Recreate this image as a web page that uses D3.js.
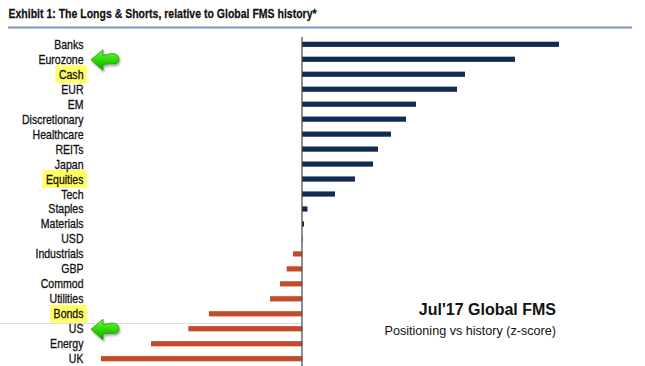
<!DOCTYPE html>
<html><head><meta charset="utf-8">
<script src="https://cdn.jsdelivr.net/npm/d3@7"></script>
<style>
html,body{margin:0;padding:0;background:#fff;}
svg{display:block;}
</style></head>
<body>
<svg id="c" width="645" height="366"></svg>
<script>
const categories = ["Banks","Eurozone","Cash","EUR","EM","Discretionary","Healthcare","REITs","Japan","Equities","Tech","Staples","Materials","USD","Industrials","GBP","Commod","Utilities","Bonds","US","Energy","UK"];
const zscores = [2.57,2.13,1.63,1.55,1.14,1.04,0.89,0.76,0.71,0.53,0.33,0.055,0.02,0.005,-0.09,-0.153,-0.22,-0.32,-0.93,-1.137,-1.51,-2.01];
const highlighted = ["Cash","Equities","Bonds"];
const arrowed = ["Eurozone","US"];
const titleText = "Exhibit 1: The Longs & Shorts, relative to Global FMS history*";
const noteTitle = "Jul'17 Global FMS";
const noteSub = "Positioning vs history (z-score)";

const svg = d3.select("#c");
const SANS = "'Liberation Sans',Arial,Helvetica,sans-serif";

const x = d3.scaleLinear().domain([-2.01, 2.57]).range([101, 559]);
const y = d3.scalePoint().domain(categories).range([44.3, 358.7]);

// defs
const defs = svg.append("defs");
const grad = defs.append("linearGradient").attr("id","ag").attr("x1",0).attr("y1",0).attr("x2",0).attr("y2",1);
grad.append("stop").attr("offset","0%").attr("stop-color","#77f544");
grad.append("stop").attr("offset","55%").attr("stop-color","#2bd400");
grad.append("stop").attr("offset","100%").attr("stop-color","#15a000");
const f = defs.append("filter").attr("id","sh").attr("x","-30%").attr("y","-30%").attr("width","160%").attr("height","170%");
f.append("feDropShadow").attr("dx",1).attr("dy",2).attr("stdDeviation",1.2).attr("flood-color","#000").attr("flood-opacity",0.35);

// narrow text helper: horizontal compression
function narrowText(sel, px, py, anchor, s){
  sel.attr("x",0).attr("y",0).attr("text-anchor",anchor)
     .attr("transform",`translate(${px},${py}) scale(${s},1)`);
}

// title
const title = svg.append("text").attr("font-family",SANS).attr("font-weight","bold")
  .attr("font-size",13.2).attr("fill","#111").attr("stroke","#111").attr("stroke-width",0.25).text(titleText);
const tw = title.node().getComputedTextLength();
narrowText(title, 8.5, 18.3, "start", 308/tw);
svg.append("line").attr("x1",8).attr("x2",632).attr("y1",27.5).attr("y2",27.5)
  .attr("stroke","#7b95bb").attr("stroke-width",2);

// light separator line
svg.append("line").attr("x1",0).attr("x2",302).attr("y1",323.5).attr("y2",323.5)
  .attr("stroke","#dddddd").attr("stroke-width",1);

// labels
const labelX = 83.5;
const hlG = svg.append("g");
const labelG = svg.append("g");
const labels = labelG.selectAll("text").data(categories).join("text")
  .attr("font-family",SANS).attr("font-size",12.8).attr("fill","#111")
  .attr("stroke","#111").attr("stroke-width",0.3).text(d=>d);
const refW = labels.filter(d=>d==="Discretionary").node().getComputedTextLength();
const ls = 61.5/refW;
labels.each(function(d){ narrowText(d3.select(this), labelX, y(d)+4.5, "end", ls); });

labels.filter(d=>highlighted.includes(d)).each(function(d){
  const w = this.getComputedTextLength()*ls;
  hlG.append("rect").attr("x",labelX-w-3.5).attr("y",y(d)-9).attr("width",w+7).attr("height",18)
    .attr("fill","#ffff66");
});

// bars
svg.append("g").selectAll("rect").data(categories).join("rect")
  .attr("x",(d,i)=>Math.min(x(0),x(zscores[i])))
  .attr("width",(d,i)=>Math.abs(x(zscores[i])-x(0)))
  .attr("y",d=>y(d)-2.6).attr("height",5.2)
  .attr("fill",(d,i)=>zscores[i]>=0?"#112c54":"#c24c27");

// axis line at zero
svg.append("line").attr("x1",x(0)).attr("x2",x(0)).attr("y1",37).attr("y2",366)
  .attr("stroke","#444").attr("stroke-width",1.2);

// green arrows
const arrowPath = "M0,0 L12,-10 L12,-4.5 C16,-5 19,-6.5 22,-6.2 C26.5,-5.8 28,-3 28,-0.5 C28,2.7 25.5,4.3 22,4.1 C19,3.9 16,4.2 12,4.8 L12,10.5 Z";
arrowed.forEach(c=>{
  svg.append("path").attr("d",arrowPath).attr("transform",`translate(91,${y(c)+0.5})`)
    .attr("fill","url(#ag)").attr("stroke","#1a9a00").attr("stroke-width",0.8)
    .attr("filter","url(#sh)");
});

// note
svg.append("text").attr("x",556).attr("y",315).attr("text-anchor","end")
  .attr("font-family",SANS).attr("font-weight","bold").attr("font-size",16).attr("fill","#111").text(noteTitle);
svg.append("text").attr("x",556).attr("y",335).attr("text-anchor","end")
  .attr("font-family",SANS).attr("font-size",12.6).attr("fill","#111").text(noteSub);
</script>
</body></html>
